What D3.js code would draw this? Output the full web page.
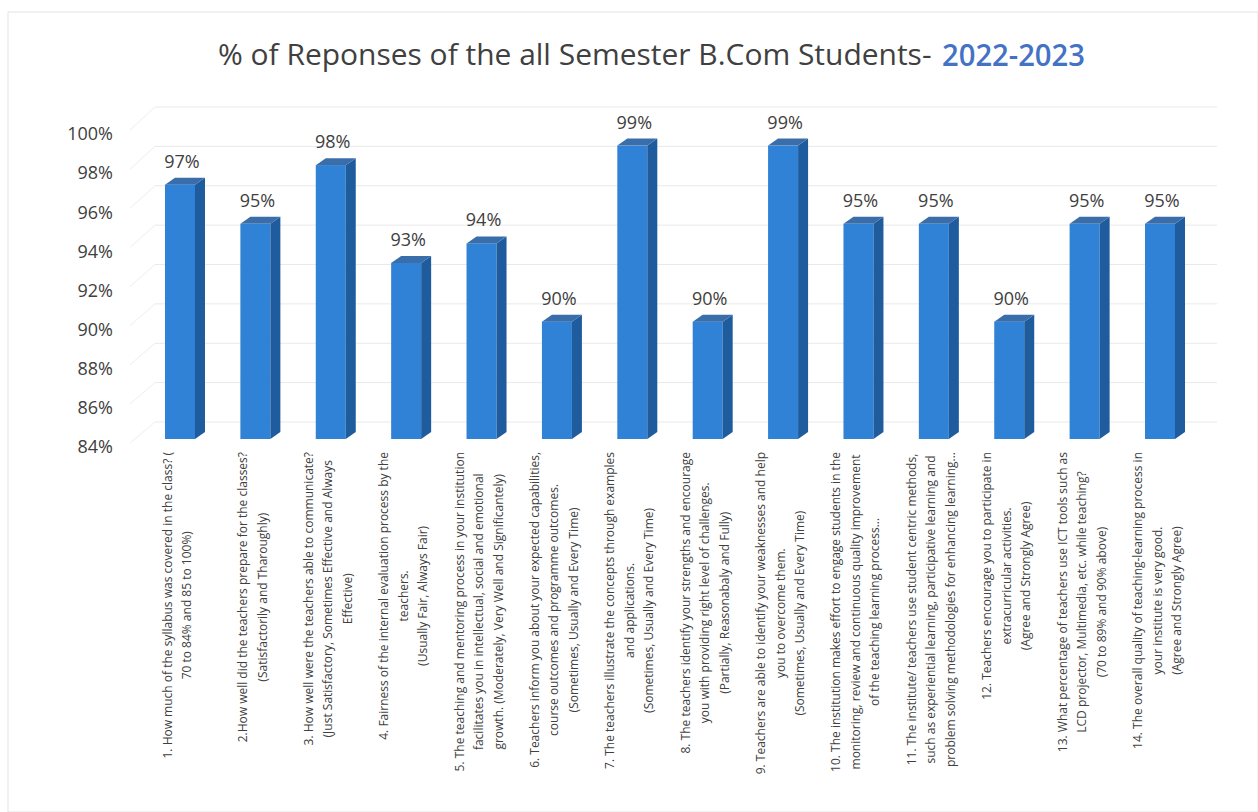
<!DOCTYPE html>
<html>
<head>
<meta charset="utf-8">
<script src="https://cdn.jsdelivr.net/npm/d3@7/dist/d3.min.js"></script>
<style>
  html, body { margin: 0; padding: 0; background: #ffffff; }
  svg { display: block; }
  text { font-family: "Open Sans", "Noto Sans", sans-serif; }
</style>
</head>
<body>
<svg id="chart" width="1258" height="812"></svg>
<script>
// ---------------- DATA ----------------
const titleMain = "% of Reponses of the all Semester B.Com Students-";
const titleYear = "2022-2023";

const categories = [
  ["1. How much of the syllabus was covered in the class? (", "70 to 84% and 85 to 100%)"],
  ["2.How well did the teachers prepare for the classes?", "(Satisfactorily and Tharoughly)"],
  ["3. How well were the teachers able to communicate?", "(Just Satisfactory, Sometimes Effective and Always", "Effective)"],
  ["4. Fairness of the internal evaluation process by the", "teachers.", "(Usually Fair, Always Fair)"],
  ["5. The teaching and mentoring process in your institution", "facilitates you in intellectual, social and emotional", "growth. (Moderately, Very Well and Significantely)"],
  ["6. Teachers inform you about your expected capabilities,", "course outcomes and programme outcomes.", "(Sometimes, Usually and Every Time)"],
  ["7. The teachers illustrate the concepts through examples", "and applications.", "(Sometimes, Usually and Every Time)"],
  ["8. The teachers identify your strengths and encourage", "you with providing right level of challenges.", "(Partially, Reasonabaly and Fully)"],
  ["9. Teachers are able to identify your weaknesses and help", "you to overcome them.", "(Sometimes, Usually and Every Time)"],
  ["10. The institution makes effort to engage students in the", "monitoring, review and continuous quality improvement", "of the teaching learning process..."],
  ["11. The institute/ teachers use student centric methods,", "such as experiential learning, participative learning and", "problem solving methodologies for enhancing learning..."],
  ["12. Teachers encourage you to participate in", "extracurricular activities.", "(Agree and Strongly Agree)"],
  ["13. What percentage of teachers use ICT tools such as", "LCD projector, Multimedia, etc. while teaching?", "(70 to 89% and 90% above)"],
  ["14. The overall quality of teaching-learning process in", "your institute is very good.", "(Agree and Strongly Agree)"]
];

const values = [97, 95, 98, 93, 94, 90, 99, 90, 99, 95, 95, 90, 95, 95];

const yTicks = [84, 86, 88, 90, 92, 94, 96, 98, 100];
const yMin = 84, yMax = 100;

// ---------------- LAYOUT ----------------
const svg = d3.select("#chart");
const W = 1258, H = 812;

svg.append("rect")
  .attr("x", 8).attr("y", 12).attr("width", W - 8).attr("height", H - 12)
  .attr("fill", "none").attr("stroke", "#e3e3e3").attr("stroke-width", 1);

const idx = d3.range(categories.length);
const x = d3.scaleBand().domain(idx).range([142.3, 1197.7]).padding(0);
const yAxisScale = d3.scaleLinear().domain([yMin, yMax]).range([447, 134]);
const yGrid = d3.scaleLinear().domain([yMin, yMax]).range([422, 107]);
const frontShift = -8;
const barW = 30, depthX = 10, depthY = -7;

const gridG = svg.append("g");
gridG.selectAll("line.h").data(yTicks).join("line")
  .attr("class", "h")
  .attr("x1", 155).attr("x2", 1217)
  .attr("y1", d => yGrid(d)).attr("y2", d => yGrid(d))
  .attr("stroke", "#e9e9e9").attr("stroke-width", 1);
gridG.selectAll("line.d").data(yTicks).join("line")
  .attr("class", "d")
  .attr("x1", 130).attr("x2", 155)
  .attr("y1", d => yAxisScale(d) - 4).attr("y2", d => yGrid(d))
  .attr("stroke", "#eeeeee").attr("stroke-width", 1);

const yAxis = d3.axisLeft(yAxisScale).tickValues(yTicks).tickSize(0).tickPadding(0)
  .tickFormat(d => d + "%");
const yg = svg.append("g").attr("transform", "translate(113,0)").call(yAxis);
yg.select(".domain").remove();
yg.selectAll("text")
  .attr("font-family", "'Open Sans', sans-serif")
  .attr("font-size", 18).attr("fill", "#404040");

const bars = svg.append("g").selectAll("g.bar").data(values).join("g").attr("class", "bar");
const bx = (d, i) => x(i) + (x.bandwidth() - barW) / 2;
const yt = d => yAxisScale(d) + frontShift;
const yb = yAxisScale(yMin) + frontShift;

bars.append("rect")
  .attr("x", bx).attr("y", d => yt(d))
  .attr("width", barW).attr("height", d => yb - yt(d))
  .attr("fill", "#2f82d6");
bars.append("path")
  .attr("d", (d, i) => {
    const x0 = bx(d, i) + barW, t = yt(d);
    return `M${x0},${t}L${x0 + depthX},${t + depthY}L${x0 + depthX},${yb + depthY}L${x0},${yb}Z`;
  })
  .attr("fill", "#1f5c9e");
bars.append("path")
  .attr("d", (d, i) => {
    const x0 = bx(d, i), t = yt(d);
    return `M${x0},${t}L${x0 + depthX},${t + depthY}L${x0 + barW + depthX},${t + depthY}L${x0 + barW},${t}Z`;
  })
  .attr("fill", "#3a6eab");

bars.append("text")
  .attr("x", (d, i) => bx(d, i) + barW / 2 + 2)
  .attr("y", d => yt(d) - 17)
  .attr("text-anchor", "middle")
  .attr("font-size", 18).attr("fill", "#404040")
  .text(d => d + "%");

const labelTop = 452, lineGap = 19.5;
const lab = svg.append("g").selectAll("g.cat").data(categories).join("g")
  .attr("class", "cat")
  .attr("transform", (d, i) => `translate(${x(i) + x.bandwidth() / 2 - 3},${labelTop}) rotate(-90)`);
lab.each(function(lines) {
  const g = d3.select(this);
  const n = lines.length;
  const texts = g.selectAll("text").data(lines).join("text")
    .attr("font-size", 12).attr("fill", "#404040")
    .attr("text-anchor", "middle")
    .attr("dominant-baseline", "central")
    .attr("y", (l, j) => (j - (n - 1) / 2) * lineGap)
    .text(l => l);
  let maxW = 0;
  texts.each(function() { maxW = Math.max(maxW, this.getComputedTextLength()); });
  texts.attr("x", -maxW / 2);
});

// Title
function fitText(sel, x0, y0, targetW) {
  const w = sel.node().getComputedTextLength();
  sel.attr("transform", `translate(${x0},${y0}) scale(${targetW / w},1)`);
}
const t1 = svg.append("text")
  .attr("font-size", 30).attr("fill", "#404040")
  .text(titleMain);
fitText(t1, 218, 65, 714);
const t2 = svg.append("text")
  .attr("font-size", 31).attr("font-weight", 600).attr("fill", "#4472c4")
  .text(titleYear);
fitText(t2, 942, 66, 143);
</script>
</body>
</html>
